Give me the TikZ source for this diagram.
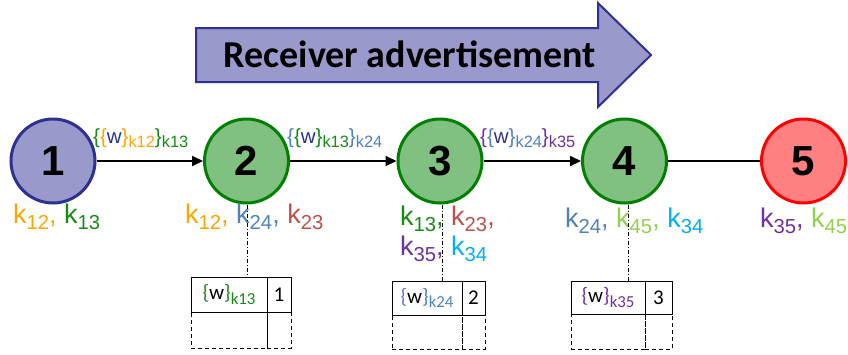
\documentclass[tikz,border=0pt]{standalone}
\usepackage{fontspec}
\setmainfont{Liberation Sans}
\newfontfamily\calfont{Carlito}
\usetikzlibrary{arrows.meta}
\definecolor{kor}{RGB}{255,165,0}
\definecolor{kgr}{RGB}{20,140,20}
\definecolor{kbl}{RGB}{79,129,189}
\definecolor{krd}{RGB}{192,80,77}
\definecolor{kpu}{RGB}{112,48,160}
\definecolor{kcy}{RGB}{0,176,240}
\definecolor{klg}{RGB}{146,208,80}
\definecolor{wnavy}{RGB}{46,49,146}
\definecolor{lav}{RGB}{153,153,204}
\definecolor{gfill}{RGB}{128,192,128}
\definecolor{gline}{RGB}{0,128,0}
\definecolor{rfill}{RGB}{255,128,128}
\newcommand\ksb[1]{\raisebox{-0.25em}{\scalebox{0.75}{#1}}}
\newcommand\esb[1]{\raisebox{-0.2em}{\scalebox{0.8}{#1}}}
\tikzset{
  netnode/.style={circle, minimum size=84pt, inner sep=0pt, line width=3pt,
    font=\fontsize{42}{42}\selectfont\bfseries},
  bluenode/.style={netnode, draw=wnavy, fill=lav},
  greennode/.style={netnode, draw=gline, fill=gfill},
  rednode/.style={netnode, draw=red, fill=rfill},
  link/.style={line width=2pt},
  arr/.style={link, -{Triangle[length=11pt,width=10pt]}},
  elabel/.style={anchor=base west, inner sep=0pt, font=\fontsize{20.5}{20}\selectfont},
  klabel/.style={anchor=base west, inner sep=0pt, font=\fontsize{27}{30}\selectfont, align=left},
  cell/.style={draw, line width=0.8pt, anchor=north west, inner sep=0pt, outer sep=0pt,
    font=\calfont\fontsize{21}{21}\selectfont},
  dcell/.style={cell, dashed, dash pattern=on 4pt off 3pt},
  guide/.style={line width=0.8pt, dash pattern=on 4pt off 2pt on 1pt off 2pt},
}
\begin{document}
\begin{tikzpicture}[x=1pt,y=-1pt]
\useasboundingbox (0,0) rectangle (848,354);
% big arrow
\draw[fill=lav, draw=wnavy, line width=2pt]
  (196,28) -- (598,28) -- (598,3) -- (651,55) -- (598,107) -- (598,82) -- (196,82) -- cycle;
\node (title) at (410,54) {\calfont\bfseries\fontsize{38}{38}\selectfont Receiver advertisement};
% nodes
\node[bluenode] (n1) at (53,161) {1};
\node[greennode] (n2) at (246.5,161) {2};
\node[greennode] (n3) at (440,161) {3};
\node[greennode] (n4) at (624.5,161) {4};
\node[rednode] (n5) at (803.5,161) {5};
\draw[arr] (n1) -- (n2);
\draw[arr] (n2) -- (n3);
\draw[arr] (n3) -- (n4);
\draw[link] (n4) -- (n5);
% edge labels
\node[elabel] (e12) at (93,143) {\textcolor{kgr}{\{}\textcolor{kor}{\{}\textcolor{wnavy}{w}\textcolor{kor}{\}\esb{k12}}\textcolor{kgr}{\}\esb{k13}}};
\node[elabel] (e23) at (287,143) {\textcolor{kbl}{\{}\textcolor{kgr}{\{}\textcolor{wnavy}{w}\textcolor{kgr}{\}\esb{k13}}\textcolor{kbl}{\}\esb{k24}}};
\node[elabel] (e34) at (480,143) {\textcolor{kpu}{\{}\textcolor{kbl}{\{}\textcolor{wnavy}{w}\textcolor{kbl}{\}\esb{k24}}\textcolor{kpu}{\}\esb{k35}}};
% key labels
\node[klabel] (k1) at (13,223) {\textcolor{kor}{k\ksb{12},} \textcolor{kgr}{k\ksb{13}}};
\node[klabel] (k2) at (185,223) {\textcolor{kor}{k\ksb{12},} \textcolor{kbl}{k\ksb{24},} \textcolor{krd}{k\ksb{23}}};
\node[klabel] (k3) at (400,255) {\textcolor{kgr}{k\ksb{13},} \textcolor{krd}{k\ksb{23},}\\\textcolor{kpu}{k\ksb{35},} \textcolor{kcy}{k\ksb{34}}};
\node[klabel] (k4) at (565,227) {\textcolor{kbl}{k\ksb{24},} \textcolor{klg}{k\ksb{45},} \textcolor{kcy}{k\ksb{34}}};
\node[klabel] (k5) at (760,227) {\textcolor{kpu}{k\ksb{35},} \textcolor{klg}{k\ksb{45}}};
% tables
\node[dcell, minimum width=76pt, minimum height=36pt] (t1c) at (191,312) {};
\node[dcell, minimum width=24pt, minimum height=36pt] (t1d) at (267,312) {};
\node[cell, minimum width=76pt, minimum height=35pt] (t1a) at (191,277) {\textcolor{kgr}{\{}w\textcolor{kgr}{\}\esb{k13}}};
\node[cell, minimum width=24pt, minimum height=35pt] (t1b) at (267,277) {1};
\node[dcell, minimum width=70pt, minimum height=34pt] (t2c) at (392,315) {};
\node[dcell, minimum width=23pt, minimum height=34pt] (t2d) at (462,315) {};
\node[cell, minimum width=70pt, minimum height=34pt] (t2a) at (392,281) {\textcolor{kbl}{\{}w\textcolor{kbl}{\}\esb{k24}}};
\node[cell, minimum width=23pt, minimum height=34pt] (t2b) at (462,281) {2};
\node[dcell, minimum width=74pt, minimum height=35pt] (t3c) at (571,314) {};
\node[dcell, minimum width=27pt, minimum height=35pt] (t3d) at (645,314) {};
\node[cell, minimum width=74pt, minimum height=33pt] (t3a) at (571,281) {\textcolor{kpu}{\{}w\textcolor{kpu}{\}\esb{k35}}};
\node[cell, minimum width=27pt, minimum height=33pt] (t3b) at (645,281) {3};
% guides
\coordinate (g1) at (247.5,277);
\coordinate (g2) at (442,281);
\coordinate (g3) at (628,281);
\draw[guide] (n2.south -| g1) -- (g1);
\draw[guide] (n3.south -| g2) -- (g2);
\draw[guide] (n4.south -| g3) -- (g3);
\end{tikzpicture}
\end{document}
